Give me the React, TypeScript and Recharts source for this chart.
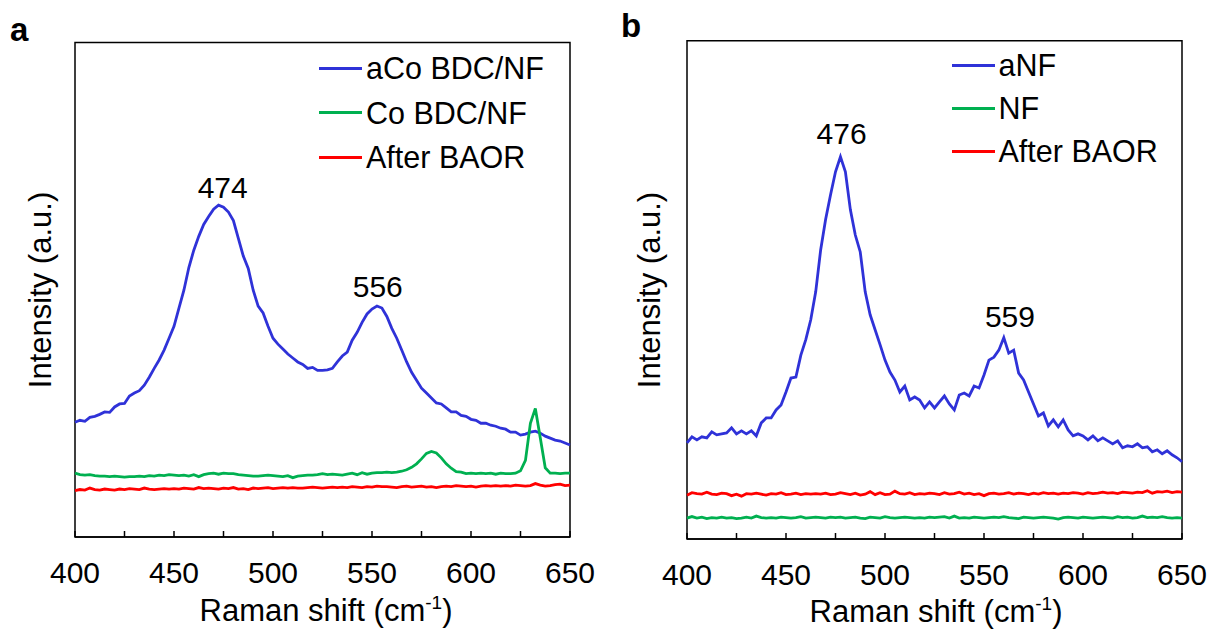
import React from 'react'
import {
  LineChart,
  Line,
  XAxis,
  YAxis,
  Legend,
  ReferenceArea,
  ReferenceDot,
} from 'recharts'

const FONT = '"Liberation Sans", Arial, sans-serif'

// Raman shift grid, 2.5 cm-1 step from 400 to 650
const shift = Array.from({ length: 101 }, (_, i) => 400 + i * 2.5)
const xTicks = [400, 425, 450, 475, 500, 525, 550, 575, 600, 625, 650]

// panel a
const aCoBDC = [
  23.2, 23.6, 23.4, 24.2, 24.4, 24.8, 25.3, 25.2, 26.3, 26.9,
  27.0, 28.5, 29.1, 29.6, 30.7, 32.3, 34.1, 35.8, 37.8, 40.2,
  42.6, 46.3, 49.9, 54.5, 58.0, 60.8, 63.2, 64.8, 66.3, 67.1,
  66.7, 65.7, 64.0, 60.4, 56.8, 54.3, 49.9, 46.7, 45.3, 42.6,
  40.2, 39.0, 38.0, 37.0, 36.2, 35.4, 34.9, 34.1, 34.3, 33.7,
  33.7, 33.8, 34.1, 35.4, 36.6, 37.4, 39.8, 41.4, 43.4, 45.1,
  46.1, 46.7, 46.3, 44.6, 42.2, 40.2, 37.8, 35.4, 33.3, 31.7,
  30.1, 29.1, 28.1, 27.1, 26.9, 26.1, 25.3, 25.3, 24.6, 24.4,
  23.8, 23.6, 23.0, 23.0, 22.6, 22.4, 22.0, 21.8, 21.2, 21.2,
  20.6, 20.8, 21.2, 21.4, 21.0, 20.4, 20.0, 19.6, 19.4, 19.0,
  18.6,
]
const coBDC = [
  12.9, 12.6, 12.5, 12.6, 12.4, 12.3, 12.3, 12.2, 12.3, 12.2,
  12.1, 12.2, 12.2, 12.3, 12.2, 12.4, 12.3, 12.5, 12.4, 12.6,
  12.5, 12.4, 12.5, 12.3, 12.6, 12.2, 12.6, 12.8, 12.9, 12.7,
  12.9, 12.8, 12.8, 12.6, 12.5, 12.4, 12.3, 12.3, 12.4, 12.5,
  12.4, 12.3, 12.2, 12.4, 12.0, 12.3, 12.4, 12.5, 12.5, 12.6,
  12.8, 12.6, 12.7, 12.6, 12.5, 12.7, 12.9, 12.6, 13.0, 12.7,
  12.9, 13.0, 13.0, 13.1, 13.0, 13.1, 13.3, 13.6, 14.1, 14.8,
  15.8, 16.9, 17.3, 17.0, 16.0, 14.8, 13.9, 13.2, 13.1, 12.8,
  12.9, 12.8, 12.9, 12.8, 12.9, 12.7, 12.9, 12.8, 12.8, 12.9,
  13.4, 15.5, 23.0, 26.0, 20.0, 14.0, 12.9, 12.9, 12.8, 12.9,
  12.9,
]
const afterA = [
  9.4, 9.6, 9.5, 9.9, 9.6, 9.5, 9.7, 9.6, 9.5, 9.7,
  9.6, 9.8, 9.7, 9.6, 9.9, 9.7, 9.6, 9.7, 9.8, 9.7,
  9.8, 9.7, 9.9, 9.8, 9.7, 10.0, 9.8, 9.9, 9.8, 9.7,
  9.9, 9.8, 10.0, 9.7, 9.8, 9.6, 9.9, 9.8, 9.9, 10.0,
  9.8, 9.9, 10.0, 9.9, 10.0, 9.9, 9.9, 10.0, 10.1, 10.0,
  9.9, 10.0, 10.1, 10.0, 10.1, 10.0, 10.2, 10.1, 10.0, 10.2,
  10.1, 10.3, 10.2, 10.2, 10.1, 10.0, 10.2, 10.3, 10.1, 10.2,
  10.3, 10.1, 10.2, 10.0, 10.2, 10.3, 10.2, 10.4, 10.3, 10.2,
  10.3, 10.1, 10.3, 10.4, 10.3, 10.4, 10.3, 10.4, 10.3, 10.5,
  10.4, 10.3, 10.4, 10.8, 10.5, 10.3, 10.4, 10.6, 10.7, 10.4,
  10.5,
]

// panel b
const aNF = [
  19.3, 20.5, 19.9, 20.5, 20.3, 21.5, 20.9, 21.1, 21.3, 22.3,
  21.1, 21.7, 21.1, 21.7, 20.7, 23.3, 24.3, 24.3, 25.9, 26.9,
  29.5, 32.3, 32.5, 36.9, 40.0, 44.0, 49.6, 58.0, 64.1, 69.1,
  73.7, 76.7, 73.7, 66.1, 61.0, 57.6, 49.6, 45.0, 42.0, 39.0,
  35.9, 33.5, 31.9, 29.5, 30.7, 27.9, 28.5, 27.9, 26.3, 27.5,
  26.3, 27.5, 28.7, 27.1, 25.9, 28.9, 29.3, 28.7, 30.7, 30.3,
  32.9, 35.9, 36.5, 37.9, 40.4, 37.3, 37.9, 33.3, 31.9, 29.5,
  27.1, 24.7, 25.3, 22.7, 23.9, 22.5, 23.9, 21.9, 20.7, 21.1,
  20.7, 19.9, 20.7, 19.7, 20.3, 19.7, 19.1, 19.7, 18.3, 18.7,
  18.5, 19.1, 18.3, 18.5, 17.5, 17.9, 17.1, 17.7, 16.9, 16.3,
  15.5,
]
const nf = [
  4.2, 4.5, 4.2, 4.4, 4.1, 4.3, 4.2, 4.4, 4.2, 4.3,
  4.1, 4.2, 4.4, 4.2, 4.6, 4.3, 4.2, 4.3, 4.2, 4.4,
  4.3, 4.2, 4.3, 4.5, 4.2, 4.3, 4.4, 4.3, 4.2, 4.4,
  4.3, 4.4, 4.2, 4.3, 4.4, 4.2, 4.1, 4.4, 4.3, 4.2,
  4.5, 4.3, 4.2, 4.3, 4.4, 4.3, 4.2, 4.3, 4.2, 4.4,
  4.3, 4.4, 4.5, 4.2, 4.6, 4.2, 4.3, 4.2, 4.4, 4.3,
  4.2, 4.3, 4.4, 4.3, 4.5, 4.3, 4.2, 4.1, 4.4, 4.3,
  4.2, 4.3, 4.4, 4.3, 4.2, 4.0, 4.3, 4.4, 4.3, 4.2,
  4.4, 4.3, 4.2, 4.3, 4.4, 4.3, 4.2, 4.5, 4.3, 4.4,
  4.2, 4.3, 4.6, 4.3, 4.4, 4.3, 4.5, 4.3, 4.2, 4.3,
  4.2,
]
const afterB = [
  8.8, 9.3, 9.1, 9.0, 9.4, 9.0, 8.9, 9.2, 9.1, 8.7,
  9.0, 8.6, 9.1, 9.0, 9.2, 9.0, 8.8, 9.1, 9.0, 9.3,
  8.9, 9.0, 9.2, 8.9, 9.1, 9.0, 9.1, 9.0, 9.2, 8.9,
  9.0, 9.3, 9.1, 8.9, 9.2, 8.8, 9.0, 9.5, 8.9, 9.3,
  8.9, 9.0, 9.6, 9.1, 9.0, 9.3, 8.9, 9.1, 9.0, 9.2,
  9.1, 8.9, 9.3, 9.0, 9.1, 9.4, 9.0, 9.2, 8.9, 9.1,
  8.7, 9.1, 9.2, 9.0, 9.1, 9.3, 9.0, 9.2, 9.1, 8.9,
  9.2, 9.0, 9.3, 9.1, 9.2, 9.0, 9.2, 9.1, 9.3, 9.2,
  9.0, 9.3, 9.1, 9.2, 9.4, 9.2, 9.3, 9.1, 9.4, 9.3,
  9.2, 9.4, 9.3, 9.7, 9.2, 9.5, 9.4, 9.6, 9.3, 9.5,
  9.4,
]

// peak annotations: [label, x, y]
const peaksA: [string, number, number][] = [['474', 474.6, 70.8], ['556', 552.9, 50.6]]
const peaksB: [string, number, number][] = [['476', 478.1, 81.5], ['559', 563.1, 44.6]]

const BLUE = '#2f32d8'
const GREEN = '#00b050'
const RED = '#ff0000'

const dataA = shift.map((x, i) => ({ x, aco: aCoBDC[i], co: coBDC[i], after: afterA[i] }))
const dataB = shift.map((x, i) => ({ x, anf: aNF[i], nf: nf[i], after: afterB[i] }))

const AxisTick = (props: any) => {
  const { x, y, payload } = props
  const v = payload.value
  return (
    <g>
      <line x1={x} y1={y} x2={x} y2={y - 6} stroke="#000" strokeWidth={1.5} />
      {v % 50 === 0 && (
        <text x={x} y={y + 46} textAnchor="middle" fontSize={30} fontFamily={FONT} fill="#000">
          {v}
        </text>
      )}
    </g>
  )
}

// legend rows follow the series order, not the alphabetical payload order
const makeLegend = (series: any[], rowH: number) => () => (
  <div style={{ fontFamily: FONT, fontSize: 30.5, color: '#000' }}>
    {series.map((s: any) => (
      <div key={s.key} style={{ display: 'flex', alignItems: 'center', height: rowH, whiteSpace: 'nowrap' }}>
        <span style={{ display: 'inline-block', width: 43, height: 3, background: s.color }} />
        <span style={{ marginLeft: 4, lineHeight: 1 }}>{s.name}</span>
      </div>
    ))}
  </div>
)

const peakLabels = (peaks: [string, number, number][]) =>
  peaks.map(([t, x, y]) => (
    <ReferenceDot
      key={t}
      x={x}
      y={y}
      r={0}
      fill="none"
      stroke="none"
      label={{ value: t, position: 'center', fontSize: 30, fontFamily: FONT, fill: '#000' }}
    />
  ))

function Panel({ data, series, peaks, legendPos, rowH, width, margin }: any) {
  return (
    <LineChart width={width} height={635} data={data} margin={margin}>
      <XAxis
        type="number"
        dataKey="x"
        domain={[400, 650]}
        ticks={xTicks}
        interval={0}
        tickSize={0}
        tickMargin={0}
        tickLine={false}
        tick={<AxisTick />}
        axisLine={{ stroke: '#000', strokeWidth: 1.5 }}
        height={60}
      />
      <YAxis type="number" domain={[0, 100]} hide />
      <ReferenceArea x1={400} x2={650} y1={0} y2={100} fill="none" stroke="#000" strokeWidth={1.5} />
      {series.map((s: any) => (
        <Line
          key={s.key}
          type="linear"
          dataKey={s.key}
          name={s.name}
          stroke={s.color}
          strokeWidth={2.8}
          dot={false}
          isAnimationActive={false}
        />
      ))}
      {peakLabels(peaks)}
      <Legend
        layout="vertical"
        align="center"
        verticalAlign="middle"
        wrapperStyle={legendPos}
        content={makeLegend(series, rowH)}
      />
    </LineChart>
  )
}

export default function App() {
  return (
    <div style={{ position: 'absolute', left: 0, top: 0, width: 1207, height: 635, background: '#fff', fontFamily: FONT }}>
      <div style={{ position: 'absolute', left: 0, top: 0 }}>
        <Panel
          data={dataA}
          width={620}
          margin={{ top: 42.5, right: 50, bottom: 38, left: 75 }}
          series={[
            { key: 'aco', name: 'aCo BDC/NF', color: BLUE },
            { key: 'co', name: 'Co BDC/NF', color: GREEN },
            { key: 'after', name: 'After BAOR', color: RED },
          ]}
          peaks={peaksA}
          legendPos={{ left: 319, top: 46 }}
          rowH={44.5}
        />
      </div>
      <div style={{ position: 'absolute', left: 610, top: 0 }}>
        <Panel
          data={dataB}
          width={597}
          margin={{ top: 40.7, right: 25, bottom: 36, left: 77 }}
          series={[
            { key: 'anf', name: 'aNF', color: BLUE },
            { key: 'nf', name: 'NF', color: GREEN },
            { key: 'after', name: 'After BAOR', color: RED },
          ]}
          peaks={peaksB}
          legendPos={{ left: 341.5, top: 43.5 }}
          rowH={43}
        />
      </div>
      <svg width={1207} height={635} style={{ position: 'absolute', left: 0, top: 0, pointerEvents: 'none' }}>
        <g fontFamily={FONT} fill="#000">
          <text x={10} y={41} fontSize={33} fontWeight="bold">a</text>
          <text x={621} y={37} fontSize={33} fontWeight="bold">b</text>
          <text x={326} y={621} fontSize={31} textAnchor="middle">
            Raman shift (cm<tspan dy={-12} fontSize={19}>-1</tspan><tspan dy={12}>)</tspan>
          </text>
          <text x={936} y={622} fontSize={31} textAnchor="middle">
            Raman shift (cm<tspan dy={-12} fontSize={19}>-1</tspan><tspan dy={12}>)</tspan>
          </text>
          <text x={51} y={290} fontSize={31} textAnchor="middle" transform="rotate(-90 51 290)">
            Intensity (a.u.)
          </text>
          <text x={660} y={290} fontSize={31} textAnchor="middle" transform="rotate(-90 660 290)">
            Intensity (a.u.)
          </text>
        </g>
      </svg>
    </div>
  )
}
